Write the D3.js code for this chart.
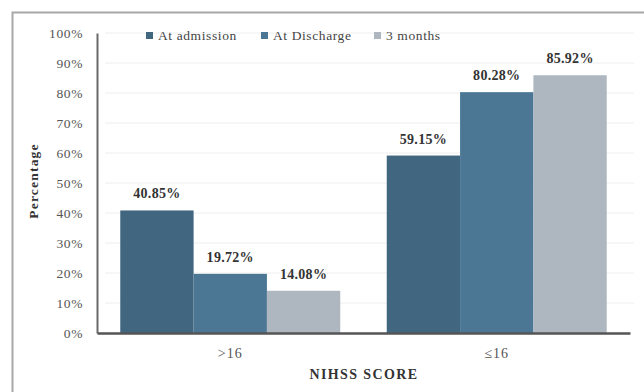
<!DOCTYPE html>
<html>
<head>
<meta charset="utf-8">
<script src="https://cdn.jsdelivr.net/npm/d3@7"></script>
<style>
  html, body { margin: 0; padding: 0; background: #fff; }
  svg { display: block; }
  text { font-family: "Liberation Serif", "DejaVu Serif", serif; }
</style>
</head>
<body>
<script>
// NIHSS score groups and the share of patients at each time point
const categories = [">16", "\u226416"];
const seriesNames = ["At admission", "At Discharge", "3 months"];
const atAdmission = [40.85, 59.15];
const atDischarge = [19.72, 80.28];
const threeMonths = [14.08, 85.92];
const yTicks = [0, 10, 20, 30, 40, 50, 60, 70, 80, 90, 100];
const seriesColors = ["#41667f", "#4b7795", "#aeb7c0"];

const seriesValues = [atAdmission, atDischarge, threeMonths];

const W = 644, H = 392;
const svg = d3.select("body").append("svg").attr("width", W).attr("height", H);

// outer frame (left and top edges)
svg.append("path")
  .attr("d", `M12.5,${H} L12.5,12.5 L${W},12.5`)
  .attr("fill", "none").attr("stroke", "#a8a8a8").attr("stroke-width", 2);

const x0 = d3.scaleBand().domain(categories).range([97, 630])
  .paddingInner(0.1745).paddingOuter(0.0873);
const x1 = d3.scaleBand().domain(seriesNames).range([0, x0.bandwidth()]);
const y = d3.scaleLinear().domain([0, 100]).range([333, 33]);

// horizontal gridlines
svg.append("g").selectAll("line").data(yTicks.slice(1)).join("line")
  .attr("x1", 105).attr("x2", 634)
  .attr("y1", d => y(d)).attr("y2", d => y(d))
  .attr("stroke", "#eeeeee").attr("stroke-width", 1);

// y axis
const yAxis = svg.append("g").attr("transform", "translate(97,0)")
  .call(d3.axisLeft(y).tickValues(yTicks).tickFormat(d => d + "%").tickSize(0).tickPadding(14));
yAxis.select(".domain").attr("stroke", "#6a6a6a").attr("stroke-width", 2);
yAxis.selectAll("text").attr("font-size", 13.5).attr("fill", "#555")
  .attr("letter-spacing", 0.6)
  .attr("font-family", "Liberation Serif, serif");

// bars
const groups = svg.append("g").selectAll("g").data(categories).join("g")
  .attr("transform", d => `translate(${x0(d)},0)`);

groups.selectAll("rect")
  .data((c, ci) => seriesNames.map((s, si) => ({ s, si, v: seriesValues[si][ci] })))
  .join("rect")
  .attr("x", d => x1(d.s))
  .attr("width", x1.bandwidth())
  .attr("y", d => y(d.v))
  .attr("height", d => y(0) - y(d.v))
  .attr("fill", d => seriesColors[d.si]);

// value labels
groups.selectAll("text.val")
  .data((c, ci) => seriesNames.map((s, si) => ({ s, si, v: seriesValues[si][ci] })))
  .join("text").attr("class", "val")
  .attr("x", d => x1(d.s) + x1.bandwidth() / 2)
  .attr("y", d => y(d.v) - 12)
  .attr("text-anchor", "middle")
  .attr("font-size", 14).attr("font-weight", "bold").attr("fill", "#333")
  .attr("letter-spacing", 0.3)
  .text(d => d.v.toFixed(2) + "%");

// x axis
const xAxis = svg.append("g").attr("transform", "translate(0,333)")
  .call(d3.axisBottom(x0).tickSize(0).tickPadding(15).tickSizeOuter(0));
xAxis.select(".domain").attr("stroke", "#555").attr("stroke-width", 2.5);
xAxis.selectAll("text").attr("font-size", 14).attr("fill", "#555")
  .attr("letter-spacing", 1)
  .attr("font-family", "Liberation Serif, serif");

// axis titles
svg.append("text")
  .attr("transform", "translate(38,181) rotate(-90)")
  .attr("text-anchor", "middle")
  .attr("font-size", 13.5).attr("font-weight", "bold").attr("fill", "#333")
  .attr("letter-spacing", 1.2)
  .text("Percentage");

svg.append("text")
  .attr("x", 364).attr("y", 379)
  .attr("text-anchor", "middle")
  .attr("font-size", 14).attr("font-weight", "bold").attr("fill", "#333")
  .attr("letter-spacing", 1.4)
  .text("NIHSS SCORE");

// legend
const legendX = [146, 261, 374];
const legend = svg.append("g").selectAll("g").data(seriesNames).join("g")
  .attr("transform", (d, i) => `translate(${legendX[i]},32)`);
legend.append("rect").attr("width", 7).attr("height", 7)
  .attr("fill", (d, i) => seriesColors[i]);
legend.append("text").attr("x", 12).attr("y", 8)
  .attr("font-size", 13.5).attr("fill", "#444")
  .attr("letter-spacing", 0.6)
  .text(d => d);
</script>
</body>
</html>
